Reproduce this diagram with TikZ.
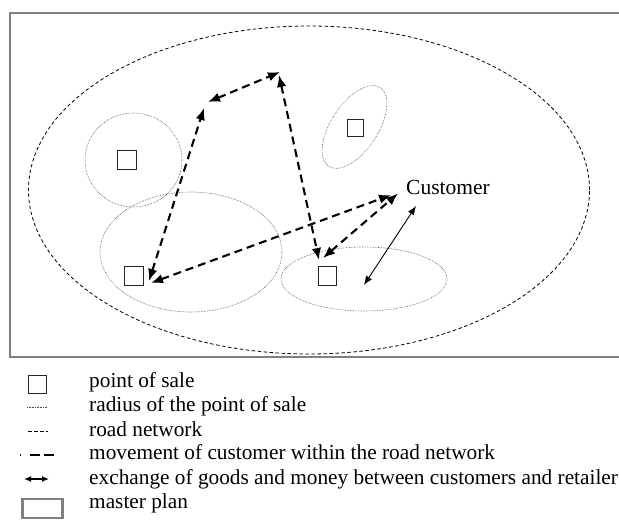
\documentclass[tikz,border=0pt]{standalone}
\usepackage{fontspec}
\setmainfont{Liberation Serif}
\usetikzlibrary{shapes.geometric,arrows.meta}
\tikzset{
  pos/.style={draw=black!85,line width=1pt,minimum width=#1,minimum height=#1,inner sep=0pt},
  pos/.default=19pt,
  radius line/.style={draw=black!70,line width=0.6pt,dash pattern=on 0.6pt off 1pt},
  road/.style={draw=black,line width=0.8pt,dash pattern=on 3.5pt off 2.5pt},
  move/.style={draw=black,line width=2.1pt,dash pattern=on 8pt off 5pt,{Latex[length=12pt,width=9.5pt]}-{Latex[length=12pt,width=9.5pt]}},
  exch/.style={draw=black,line width=0.9pt,{Latex[length=9pt,width=7pt]}-{Latex[length=9pt,width=7pt]}},
  plan/.style={draw=black!50,line width=2.6pt},
  lbl/.style={font=\fontsize{21.3}{24}\selectfont,anchor=base west,inner sep=0pt},
}
\begin{document}
\begin{tikzpicture}[x=1pt,y=-1pt]
\useasboundingbox (0,0) rectangle (619,521);
\begin{scope}
\clip (0,0) rectangle (619,521);
% master plan frame
\draw[plan] (10,13) rectangle (640,357);
\end{scope}
% road network
\node[road,ellipse,minimum width=561pt,minimum height=328pt,inner sep=0pt] (road) at (309,190) {};
% radii of points of sale
\node[radius line,ellipse,minimum width=97pt,minimum height=94pt,inner sep=0pt] (r1) at (133.5,160) {};
\node[radius line,ellipse,minimum width=94pt,minimum height=47pt,inner sep=0pt,rotate=56.7] (r2) at (354.5,127) {};
\node[radius line,ellipse,minimum width=182pt,minimum height=120pt,inner sep=0pt] (r3) at (191,252) {};
\node[radius line,ellipse,minimum width=166pt,minimum height=64pt,inner sep=0pt] (r4) at (364,279) {};
% points of sale
\node[pos] (s1) at (127,160) {};
\node[pos,minimum width=16pt,minimum height=17pt] (s2) at (355,128.5) {};
\node[pos] (s3) at (134,276) {};
\node[pos,minimum width=18pt] (s4) at (327,276) {};
% customer
\node[lbl,font=\fontsize{21.5}{24}\selectfont] (cust) at (406,195) {Customer};
% junction coordinates
\coordinate (a1) at (204,108);
\coordinate (a2) at (208,102);
\coordinate (b1) at (280,72);
\coordinate (b2) at (279,75);
\coordinate (s3a) at (149,281);
\coordinate (s3b) at (151,283);
\coordinate (s4a) at (319,260);
\coordinate (s4b) at (323,258);
\coordinate (c1) at (391,195);
\coordinate (c2) at (398,193.5);
\coordinate (c3) at (416,206);
\coordinate (s4c) at (364,285);
% movements
\draw[move] (s3a) -- (a1);
\draw[move] (a2) -- (b1);
\draw[move] (b2) -- (s4a);
\draw[move] (s3b) -- (c1);
\draw[move] (s4b) -- (c2);
\draw[exch] (s4c) -- (c3);
% legend
\node[pos,minimum width=18pt,minimum height=18pt] (l1) at (37,385) {};
\node[lbl] (t1) at (89,388) {point of sale};
\coordinate (l2a) at (27,407); \coordinate (l2b) at (47,407);
\draw[radius line] (l2a) -- (l2b);
\node[lbl] (t2) at (89,412) {radius of the point of sale};
\coordinate (l3a) at (28,431); \coordinate (l3b) at (48,431);
\draw[road] (l3a) -- (l3b);
\node[lbl] (t3) at (89,436) {road network};
\coordinate (l4a) at (20,455); \coordinate (l4b) at (54,455);
\draw[draw=black,line width=1.9pt,dash pattern=on 0.8pt off 9.2pt on 9.5pt off 4.5pt on 9.5pt off 5pt] (l4a) -- (l4b);
\node[lbl] (t4) at (89,460) {movement of customer within the road network};
\coordinate (l5a) at (24,479); \coordinate (l5b) at (49,479);
\draw[exch,line width=1.6pt,{Latex[length=7pt,width=6pt]}-{Latex[length=7pt,width=6pt]}] (l5a) -- (l5b);
\node[lbl] (t5) at (89,484) {exchange of goods and money between customers and retailer};
\node[plan,minimum width=40pt,minimum height=19pt,inner sep=0pt] (l6) at (42.5,508.5) {};
\node[lbl] (t6) at (89,508) {master plan};
\end{tikzpicture}
\end{document}
